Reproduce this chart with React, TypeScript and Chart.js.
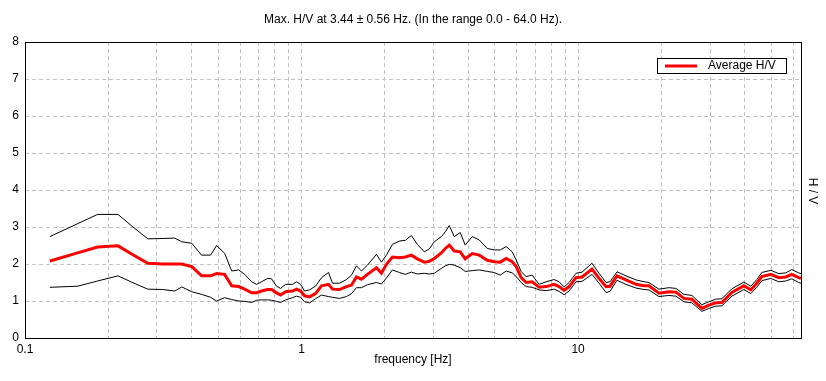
import React, { useEffect, useRef } from 'react';
import { Chart, registerables } from 'chart.js';

Chart.register(...registerables);

// ---- Data ----
const frequencies = [
  0.123, 0.155, 0.183, 0.217, 0.243, 0.278, 0.315, 0.348, 0.369, 0.401,
  0.435, 0.469, 0.493, 0.527, 0.559, 0.592, 0.623, 0.660, 0.688, 0.717,
  0.754, 0.779, 0.812, 0.840, 0.876, 0.928, 0.959, 0.992, 1.025, 1.069,
  1.123, 1.181, 1.252, 1.294, 1.372, 1.454, 1.516, 1.580, 1.647, 1.731,
  1.866, 1.945, 2.028, 2.131, 2.259, 2.374, 2.496, 2.623, 2.780, 2.898,
  3.021, 3.202, 3.311, 3.422, 3.567, 3.750, 3.908, 4.143, 4.392, 4.694,
  4.976, 5.230, 5.497, 5.778, 5.974, 6.227, 6.492, 6.824, 7.233, 7.666,
  8.192, 8.539, 8.902, 9.281, 9.835, 10.34, 11.23, 11.91, 12.62, 13.05,
  13.83, 14.90, 16.20, 17.32, 18.04, 19.60, 21.31, 22.59, 24.14, 25.80,
  28.04, 29.72, 31.50, 33.11, 35.98, 39.76, 42.13, 44.29, 46.17, 49.77,
  53.17, 56.36, 59.24, 62.79, 64.0,
];

const upperHV = [
  2.74, 3.09, 3.34, 3.34, 3.03, 2.68, 2.69, 2.70, 2.60, 2.56,
  2.24, 2.24, 2.50, 2.29, 1.81, 1.84, 1.72, 1.52, 1.45, 1.52,
  1.61, 1.60, 1.40, 1.34, 1.45, 1.45, 1.52, 1.45, 1.27, 1.30,
  1.40, 1.63, 1.77, 1.48, 1.48, 1.58, 1.70, 1.95, 1.81, 1.97,
  2.26, 2.05, 2.24, 2.53, 2.62, 2.64, 2.77, 2.53, 2.33, 2.41,
  2.60, 2.74, 2.87, 3.04, 2.74, 2.85, 2.51, 2.74, 2.65, 2.42,
  2.38, 2.38, 2.47, 2.33, 2.11, 1.79, 1.66, 1.70, 1.45, 1.52,
  1.58, 1.52, 1.38, 1.50, 1.75, 1.78, 2.02, 1.75, 1.50, 1.52,
  1.79, 1.68, 1.57, 1.52, 1.50, 1.32, 1.36, 1.34, 1.18, 1.15,
  0.90, 0.98, 1.05, 1.06, 1.33, 1.51, 1.40, 1.58, 1.77, 1.83,
  1.74, 1.76, 1.85, 1.76, 1.74,
];

const averageHV = [
  2.08, 2.30, 2.46, 2.49, 2.27, 2.02, 2.00, 2.00, 2.00, 1.93,
  1.68, 1.68, 1.74, 1.72, 1.41, 1.39, 1.32, 1.22, 1.22, 1.27,
  1.31, 1.31, 1.22, 1.16, 1.25, 1.27, 1.32, 1.27, 1.14, 1.11,
  1.20, 1.41, 1.45, 1.32, 1.31, 1.39, 1.43, 1.65, 1.59, 1.72,
  1.90, 1.75, 1.99, 2.19, 2.17, 2.19, 2.24, 2.14, 2.05, 2.07,
  2.15, 2.30, 2.42, 2.51, 2.35, 2.33, 2.14, 2.28, 2.24, 2.10,
  2.06, 2.05, 2.15, 2.06, 1.93, 1.63, 1.50, 1.52, 1.37, 1.39,
  1.45, 1.39, 1.29, 1.39, 1.63, 1.65, 1.86, 1.61, 1.39, 1.40,
  1.68, 1.57, 1.45, 1.41, 1.41, 1.21, 1.25, 1.24, 1.07, 1.05,
  0.80, 0.89, 0.95, 0.96, 1.23, 1.41, 1.30, 1.48, 1.66, 1.72,
  1.63, 1.65, 1.72, 1.63, 1.61,
];

const lowerHV = [
  1.37, 1.40, 1.54, 1.68, 1.51, 1.32, 1.31, 1.27, 1.38, 1.25,
  1.18, 1.10, 1.00, 1.09, 1.04, 1.00, 0.99, 0.96, 1.02, 1.03,
  1.03, 1.02, 0.99, 0.96, 1.03, 1.09, 1.13, 1.10, 0.98, 0.95,
  1.06, 1.16, 1.12, 1.10, 1.07, 1.12, 1.20, 1.36, 1.36, 1.44,
  1.50, 1.46, 1.62, 1.84, 1.77, 1.72, 1.78, 1.73, 1.75, 1.73,
  1.75, 1.88, 1.95, 1.99, 1.97, 1.90, 1.80, 1.82, 1.84, 1.80,
  1.77, 1.70, 1.81, 1.76, 1.66, 1.50, 1.39, 1.37, 1.30, 1.28,
  1.32, 1.26, 1.17, 1.27, 1.52, 1.53, 1.72, 1.48, 1.23, 1.26,
  1.56, 1.45, 1.35, 1.31, 1.30, 1.12, 1.15, 1.13, 0.98, 0.95,
  0.72, 0.80, 0.86, 0.87, 1.13, 1.31, 1.20, 1.37, 1.55, 1.61,
  1.52, 1.54, 1.60, 1.50, 1.48,
];

const xGridValues = [
  0.1, 0.2, 0.3, 0.4, 0.5, 0.6, 0.7, 0.8, 0.9,
  1, 2, 3, 4, 5, 6, 7, 8, 9,
  10, 20, 30, 40, 50, 60,
];
const xTickLabels = [0.1, 1, 10];
const xMin = 0.1;
const xMax = 64;
const yMin = 0;
const yMax = 8;

const titleText = 'Max. H/V at 3.44 \u00b1 0.56 Hz. (In the range 0.0 - 64.0 Hz).';
const xAxisTitle = 'frequency [Hz]';
const yAxisTitle = 'H / V';
const legendLabel = 'Average H/V';

const FONT_FAMILY = '"Liberation Sans", Arial, Helvetica, sans-serif';

const decorPlugin = {
  id: 'decor',
  afterDatasetsDraw(chart: any) {
    const { ctx, chartArea: a } = chart;
    ctx.save();
    // frame
    ctx.strokeStyle = '#000000';
    ctx.lineWidth = 1;
    ctx.setLineDash([]);
    ctx.strokeRect(a.left + 0.5, a.top + 0.5, a.right - a.left, a.bottom - a.top);

    // legend box
    const boxW = 129;
    const boxH = 15;
    const bx = a.right - 15 - boxW;
    const by = a.top + 16;
    ctx.fillStyle = '#ffffff';
    ctx.fillRect(bx, by, boxW, boxH);
    ctx.strokeRect(bx + 0.5, by + 0.5, boxW, boxH);
    const cy = by + 8;
    ctx.strokeStyle = '#ff0000';
    ctx.lineWidth = 3;
    ctx.beginPath();
    ctx.moveTo(bx + 8, cy);
    ctx.lineTo(bx + 40, cy);
    ctx.stroke();
    ctx.fillStyle = '#000000';
    ctx.font = '12px ' + FONT_FAMILY;
    ctx.textAlign = 'left';
    ctx.textBaseline = 'middle';
    ctx.fillText(legendLabel, bx + 51, cy);

    // chart title
    ctx.textAlign = 'center';
    ctx.fillText(titleText, (a.left + a.right) / 2, 20);

    // y-axis title on the right, rotated clockwise
    ctx.translate(a.right + 11, (a.top + a.bottom) / 2 + 1);
    ctx.rotate(Math.PI / 2);
    ctx.fillText(yAxisTitle, 0, 0);
    ctx.restore();
  },
};

export default function App() {
  const canvasRef = useRef<HTMLCanvasElement | null>(null);

  useEffect(() => {
    if (!canvasRef.current) return;
    const toPoints = (vals: number[]) => frequencies.map((f, i) => ({ x: f, y: vals[i] }));
    const chart = new Chart(canvasRef.current, {
      type: 'line',
      data: {
        datasets: [
          {
            label: legendLabel,
            data: toPoints(averageHV),
            borderColor: '#ff0000',
            borderWidth: 3,
            pointRadius: 0,
            tension: 0,
            order: 0,
          },
          {
            label: 'upper',
            data: toPoints(upperHV),
            borderColor: '#000000',
            borderWidth: 1,
            pointRadius: 0,
            tension: 0,
            order: 1,
          },
          {
            label: 'lower',
            data: toPoints(lowerHV),
            borderColor: '#000000',
            borderWidth: 1,
            pointRadius: 0,
            tension: 0,
            order: 1,
          },
        ],
      },
      options: {
        responsive: false,
        animation: false,
        devicePixelRatio: 1,
        layout: { padding: { top: 42, right: 25, left: 0, bottom: 0 } },
        plugins: {
          legend: { display: false },
          tooltip: { enabled: false },
          title: { display: false },
        },
        scales: {
          x: {
            type: 'logarithmic',
            min: xMin,
            max: xMax,
            afterBuildTicks: (scale: any) => {
              scale.ticks = xGridValues.map((v) => ({ value: v }));
            },
            afterFit: (scale: any) => {
              scale.height = 43;
            },
            grid: { color: '#c0c0c0', lineWidth: 1, drawTicks: false },
            border: { display: false, dash: [4, 3] },
            ticks: {
              autoSkip: false,
              maxRotation: 0,
              padding: 4,
              color: '#000000',
              font: { family: FONT_FAMILY, size: 12 },
              callback: (value: any) => {
                const v = Number(value);
                return xTickLabels.some((l) => Math.abs(l - v) < 1e-9) ? String(v) : '';
              },
            },
            title: {
              display: true,
              text: xAxisTitle,
              color: '#000000',
              font: { family: FONT_FAMILY, size: 12 },
              padding: { top: 0, bottom: 14 },
            },
          },
          y: {
            type: 'linear',
            min: yMin,
            max: yMax,
            afterFit: (scale: any) => {
              scale.width = 25;
            },
            grid: { color: '#c0c0c0', lineWidth: 1, drawTicks: false },
            border: { display: false, dash: [4, 3] },
            ticks: {
              stepSize: 1,
              padding: 6,
              color: '#000000',
              font: { family: FONT_FAMILY, size: 12 },
            },
          },
        },
      },
      plugins: [decorPlugin],
    } as any);
    return () => chart.destroy();
  }, []);

  return (
    <div style={{ position: 'absolute', left: 0, top: 0, width: 826, height: 381, background: '#ffffff' }}>
      <canvas ref={canvasRef} width={826} height={381} style={{ display: 'block' }} />
    </div>
  );
}
